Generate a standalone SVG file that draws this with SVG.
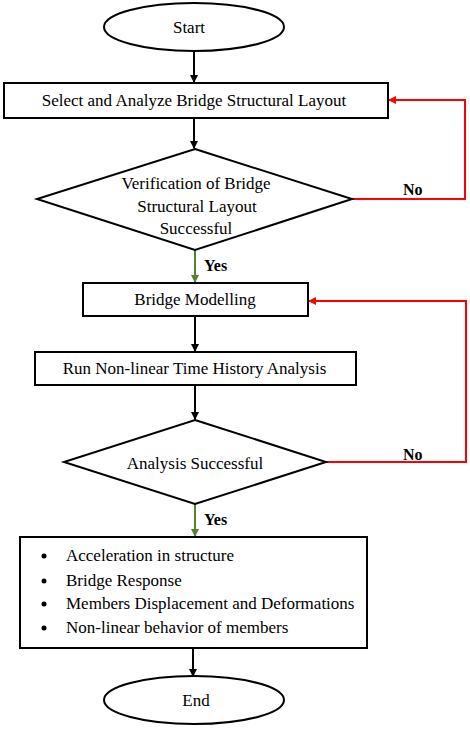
<svg xmlns="http://www.w3.org/2000/svg" width="470" height="729" viewBox="0 0 470 729">
<style>
.s{fill:#fff;stroke:#000;stroke-width:2}
.t{font-family:"Liberation Serif","Times New Roman",serif;font-size:17px;fill:#000}
.c{text-anchor:middle}
.b{font-family:"Liberation Serif","Times New Roman",serif;font-size:16px;font-weight:bold;fill:#000}
.k{fill:none;stroke:#000;stroke-width:2}
.r{fill:none;stroke:#ff0000;stroke-width:2}
.g{fill:none;stroke:#548235;stroke-width:2}
</style>
<defs>
<marker id="ak" markerWidth="8" markerHeight="8" refX="7" refY="4" orient="auto" markerUnits="userSpaceOnUse"><path d="M0,0 L8,4 L0,8 Z" fill="#000"/></marker>
<marker id="ar" markerWidth="8" markerHeight="8" refX="7" refY="4" orient="auto" markerUnits="userSpaceOnUse"><path d="M0,0 L8,4 L0,8 Z" fill="#ff0000"/></marker>
<marker id="ag" markerWidth="8" markerHeight="8" refX="7" refY="4" orient="auto" markerUnits="userSpaceOnUse"><path d="M0,0 L8,4 L0,8 Z" fill="#548235"/></marker>
</defs>
<g id="connectors">
<line class="k" x1="194" y1="51" x2="194" y2="82" marker-end="url(#ak)"/>
<line class="k" x1="194" y1="118" x2="194" y2="148" marker-end="url(#ak)"/>
<line class="g" x1="195" y1="250" x2="195" y2="282" marker-end="url(#ag)"/>
<polyline class="r" points="352,199 465,199 465,100 389,100" marker-end="url(#ar)"/>
<line class="k" x1="195" y1="316" x2="195" y2="351" marker-end="url(#ak)"/>
<line class="k" x1="195" y1="385" x2="195" y2="419" marker-end="url(#ak)"/>
<polyline class="r" points="326,462 466,462 466,301 309,301" marker-end="url(#ar)"/>
<line class="g" x1="195" y1="504" x2="195" y2="536" marker-end="url(#ag)"/>
<line class="k" x1="193" y1="648" x2="193" y2="676" marker-end="url(#ak)"/>
<text class="b" x="403" y="195">No</text>
<text class="b" x="204" y="271">Yes</text>
<text class="b" x="403" y="460">No</text>
<text class="b" x="204" y="525">Yes</text>
</g>
<g id="start">
<ellipse class="s" cx="194" cy="27" rx="90" ry="24"/>
<text class="t c" x="189" y="33">Start</text>
</g>
<g id="select">
<rect class="s" x="4" y="83" width="384" height="35"/>
<text class="t c" x="194" y="106">Select and Analyze Bridge Structural Layout</text>
</g>
<g id="verify">
<polygon class="s" points="195,149 352,199 195,250 37,199"/>
<text class="t c" x="196" y="189">Verification of Bridge</text>
<text class="t c" x="197" y="212">Structural Layout</text>
<text class="t c" x="196" y="234">Successful</text>
</g>
<g id="modelling">
<rect class="s" x="83" y="283" width="225" height="33"/>
<text class="t c" x="195" y="305">Bridge Modelling</text>
</g>
<g id="run">
<rect class="s" x="35" y="352" width="321" height="33"/>
<text class="t c" x="194.5" y="374">Run Non-linear Time History Analysis</text>
</g>
<g id="analysis">
<polygon class="s" points="195,420 326,462 195,504 64,462"/>
<text class="t c" x="195" y="469">Analysis Successful</text>
</g>
<g id="results">
<rect class="s" x="20" y="537" width="347" height="111"/>
<circle cx="44" cy="556" r="2.5" fill="#000"/>
<circle cx="44" cy="581" r="2.5" fill="#000"/>
<circle cx="44" cy="604" r="2.5" fill="#000"/>
<circle cx="44" cy="628" r="2.5" fill="#000"/>
<text class="t" x="66" y="561">Acceleration in structure</text>
<text class="t" x="66" y="586">Bridge Response</text>
<text class="t" x="66" y="609">Members Displacement and Deformations</text>
<text class="t" x="66" y="633">Non-linear behavior of members</text>
</g>
<g id="end">
<ellipse class="s" cx="194" cy="700" rx="90" ry="24"/>
<text class="t c" x="196" y="706">End</text>
</g>
</svg>
